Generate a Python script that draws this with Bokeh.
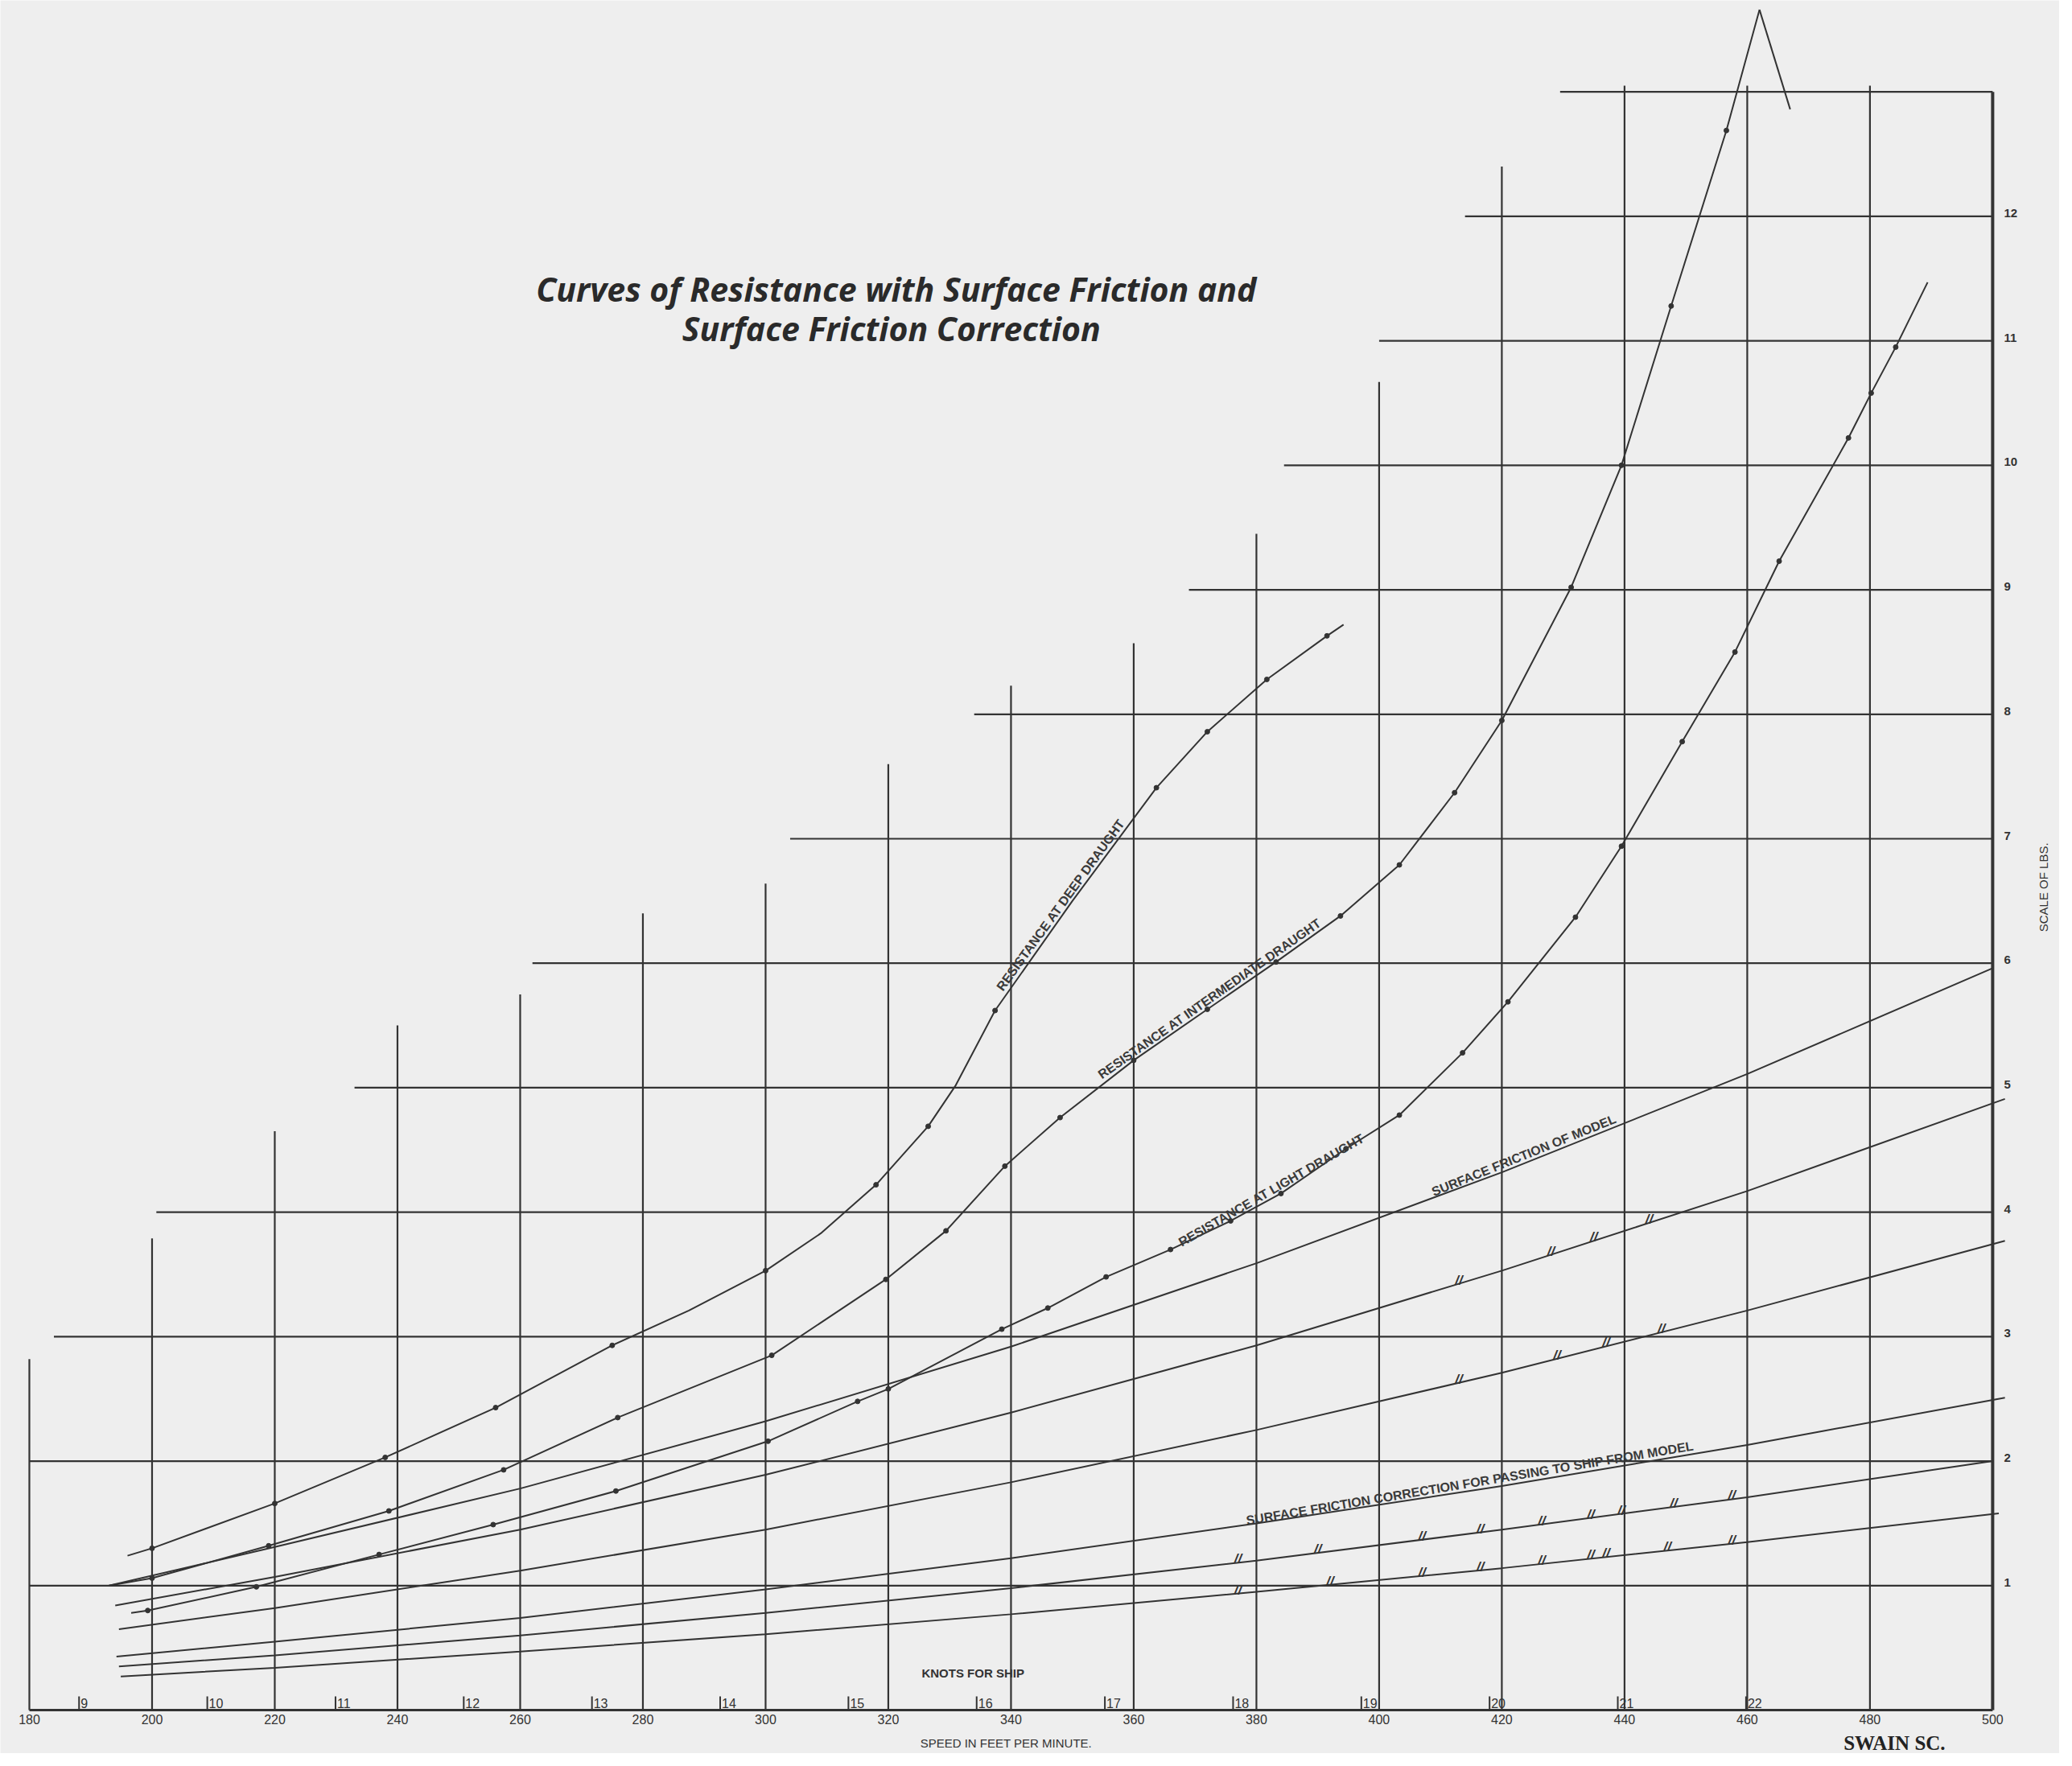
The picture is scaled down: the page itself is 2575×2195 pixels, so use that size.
import numpy as np
from bokeh.plotting import figure
from bokeh.models import Range1d
from bokeh.core.properties import value
from bokeh.embed import file_html
from bokeh.resources import INLINE

# ---------------- data ----------------
speed_ticks = [180, 200, 220, 240, 260, 280, 300, 320, 340, 360, 380, 400, 420, 440, 460, 480, 500]
speed_labels = ["180", "200", "220", "240", "260", "280", "300", "320", "340", "360",
                "380", "400", "420", "440", "460", "480", "500"]
vline_top = [2.82, 3.79, 4.65, 5.5, 5.75, 6.4, 6.64, 7.6, 8.23, 8.57, 9.45, 10.67, 12.4,
             13.05, 13.05, 13.05, 13.0]

lbs_levels = [1, 2, 3, 4, 5, 6, 7, 8, 9, 10, 11, 12, 13]
hline_start = [180, 180, 184, 200.7, 233, 262, 304, 334, 369, 384.5, 400, 414, 429.5]
lbs_labels = ["1", "2", "3", "4", "5", "6", "7", "8", "9", "10", "11", "12", ""]

knots = ["9", "10", "11", "12", "13", "14", "15", "16", "17", "18", "19", "20", "21", "22"]
knots_fpm = [188.1, 209.0, 229.9, 250.8, 271.7, 292.6, 313.5, 334.4, 355.3, 376.2, 397.1,
             418.0, 438.9, 459.8]

deep_fpm = [196, 200, 220, 238, 256, 275, 287.5, 300, 309, 318, 326.5, 331, 337.4, 350,
            363.7, 372, 381.7, 391.5, 394.2]
deep_lbs = [1.24, 1.30, 1.66, 2.03, 2.43, 2.93, 3.21, 3.53, 3.83, 4.22, 4.69, 5.02, 5.62,
            6.50, 7.41, 7.86, 8.28, 8.63, 8.72]
deep_dot = [0, 1, 1, 1, 1, 1, 0, 1, 0, 1, 1, 0, 1, 0, 1, 1, 1, 1, 0]

inter_fpm = [193, 200, 219, 238.6, 257.3, 275.9, 301, 319.6, 329.4, 339, 348, 360, 372,
             383.2, 393.7, 403.3, 412.3, 420, 431.3, 439.5, 447.6, 456.6, 462]
inter_lbs = [1.0, 1.06, 1.32, 1.60, 1.93, 2.35, 2.85, 3.46, 3.85, 4.37, 4.76, 5.22, 5.63,
             6.01, 6.38, 6.79, 7.37, 7.95, 9.02, 10.0, 11.28, 12.69, 13.66]
inter_tail_fpm = [462, 467]
inter_tail_lbs = [13.66, 12.86]

light_fpm = [196.6, 199.3, 217, 237, 255.6, 275.6, 300.4, 315, 320, 338.5, 346, 355.5, 366,
             375.8, 384, 394.6, 403.3, 413.6, 421, 432, 439.5, 449.4, 458, 465.2, 476.5,
             480.2, 484.2, 489.4]
light_lbs = [0.78, 0.80, 0.99, 1.25, 1.49, 1.76, 2.16, 2.48, 2.58, 3.06, 3.23, 3.48, 3.70,
             3.93, 4.15, 4.51, 4.78, 5.28, 5.69, 6.37, 6.94, 7.78, 8.50, 9.23, 10.22, 10.58,
             10.95, 11.47]

sfm_fpm = [193, 220, 260, 300, 340, 380, 420, 460, 500]
sfm_lbs = [1.00, 1.31, 1.78, 2.32, 2.92, 3.59, 4.32, 5.11, 5.96]
fr2_fpm = [194, 220, 260, 300, 340, 380, 420, 460, 502]
fr2_lbs = [0.84, 1.07, 1.45, 1.89, 2.39, 2.93, 3.53, 4.17, 4.91]
fr3_fpm = [194.6, 220, 260, 300, 340, 380, 420, 460, 502]
fr3_lbs = [0.65, 0.82, 1.12, 1.45, 1.83, 2.25, 2.71, 3.21, 3.77]
fr4_fpm = [194.2, 220, 260, 300, 340, 380, 420, 460, 502]
fr4_lbs = [0.43, 0.55, 0.74, 0.97, 1.22, 1.50, 1.80, 2.13, 2.51]
fr5_fpm = [194.6, 220, 260, 300, 340, 380, 420, 460, 500]
fr5_lbs = [0.35, 0.44, 0.60, 0.78, 0.98, 1.20, 1.45, 1.71, 2.00]
fr6_fpm = [194.9, 220, 260, 300, 340, 380, 420, 460, 501]
fr6_lbs = [0.27, 0.34, 0.47, 0.61, 0.77, 0.95, 1.14, 1.35, 1.58]

ditto2_fpm = [413, 428, 435, 444]
ditto3_fpm = [413, 429, 437, 446]
ditto5_fpm = [377, 390, 407, 416.5, 426.5, 434.5, 439.5, 448, 457.5]
ditto6_fpm = [377, 392, 407, 416.5, 426.5, 434.5, 437, 447, 457.5]

# ---------------- figure ----------------
INK = "#333333"
PAPER = "#eeeeee"
W, H = 2559, 2179
p = figure(width=W, height=H, output_backend="svg", toolbar_location=None,
           x_axis_type=None, y_axis_type=None, min_border=0,
           x_range=Range1d(175.28, 510.9), y_range=Range1d(-0.349, 13.735))
p.background_fill_color = PAPER
p.border_fill_color = PAPER
p.outline_line_color = None
p.xgrid.visible = False
p.ygrid.visible = False

SANS = value("Liberation Sans")

# staircase grid
p.segment(x0=speed_ticks[:-1], y0=[0] * 16, x1=speed_ticks[:-1], y1=vline_top[:-1],
          line_color=INK, line_width=2.2)
p.segment(x0=[speed_ticks[-1]], y0=[0], x1=[speed_ticks[-1]], y1=[vline_top[-1]],
          line_color=INK, line_width=4)
p.segment(x0=hline_start, y0=lbs_levels, x1=[500] * len(lbs_levels), y1=lbs_levels,
          line_color=INK, line_width=2.2)
p.segment(x0=[speed_ticks[0]], y0=[0], x1=[speed_ticks[-1]], y1=[0],
          line_color=INK, line_width=3)

# knot ticks
p.segment(x0=knots_fpm, y0=[0] * len(knots), x1=knots_fpm, y1=[0.11] * len(knots),
          line_color=INK, line_width=2)

# curves
p.line(deep_fpm, deep_lbs, line_color=INK, line_width=2)
p.scatter([x for x, d in zip(deep_fpm, deep_dot) if d],
          [y for y, d in zip(deep_lbs, deep_dot) if d], size=6, color=INK)
for xs, ys in [(inter_fpm, inter_lbs), (light_fpm, light_lbs)]:
    p.line(xs, ys, line_color=INK, line_width=2)
    p.scatter(xs[1:-1], ys[1:-1], size=6, color=INK)
p.line(inter_tail_fpm, inter_tail_lbs, line_color=INK, line_width=2)

for xs, ys in [(sfm_fpm, sfm_lbs), (fr2_fpm, fr2_lbs), (fr3_fpm, fr3_lbs),
               (fr4_fpm, fr4_lbs), (fr5_fpm, fr5_lbs), (fr6_fpm, fr6_lbs)]:
    p.line(xs, ys, line_color=INK, line_width=2)

# ditto marks
for dx, (lx, ly) in [(ditto2_fpm, (fr2_fpm, fr2_lbs)), (ditto3_fpm, (fr3_fpm, fr3_lbs)),
                     (ditto5_fpm, (fr5_fpm, fr5_lbs)), (ditto6_fpm, (fr6_fpm, fr6_lbs))]:
    yy = list(np.interp(dx, lx, ly))
    p.text(x=dx, y=yy, text=["//"] * len(dx), text_font=SANS,
           text_font_size="17px", text_font_style="bold italic", text_color=INK,
           text_align="center", text_baseline="bottom", y_offset=5)

# axis tick labels
p.text(x=speed_ticks, y=[0] * len(speed_ticks), text=speed_labels,
       text_font=SANS, text_font_size="16px", text_color=INK,
       text_align="center", text_baseline="top", y_offset=5)
p.text(x=knots_fpm, y=[0] * len(knots), text=knots,
       text_font=SANS, text_font_size="16px", text_color=INK,
       text_align="left", text_baseline="bottom", x_offset=2, y_offset=-3)
p.text(x=[500] * len(lbs_levels), y=lbs_levels, text=lbs_labels,
       text_font=SANS, text_font_size="15px", text_font_style="bold", text_color=INK,
       text_align="left", text_baseline="middle", x_offset=14, y_offset=-4)

def curve_label(txt, xs, ys, xc, ang):
    yc = float(np.interp(xc, xs, ys))
    p.text(x=[xc], y=[yc], text=[txt], angle=[ang], angle_units="deg",
           text_font=SANS, text_font_size="16px", text_font_style="bold",
           text_color="#3a3a3a", text_align="center", text_baseline="bottom", y_offset=-1)

curve_label("RESISTANCE AT DEEP DRAUGHT", deep_fpm, deep_lbs, 349, 54)
curve_label("RESISTANCE AT INTERMEDIATE DRAUGHT", inter_fpm, inter_lbs, 373, 35)
curve_label("RESISTANCE AT LIGHT DRAUGHT", light_fpm, light_lbs, 383, 30)
curve_label("SURFACE FRICTION OF MODEL", sfm_fpm, sfm_lbs, 424, 22)
curve_label("SURFACE FRICTION CORRECTION FOR PASSING TO SHIP FROM MODEL",
            fr4_fpm, fr4_lbs, 415, 9.5)

# titles and captions
p.text(x=[322], y=[11.42], text=["Curves of Resistance with Surface Friction  and"],
       text_font=value("Open Sans"), text_font_size="41px", text_font_style="bold italic",
       text_color="#2a2a2a", text_align="center", text_baseline="middle")
p.text(x=[320.5], y=[11.1], text=["Surface Friction Correction"],
       text_font=value("Open Sans"), text_font_size="41px", text_font_style="bold italic",
       text_color="#2a2a2a", text_align="center", text_baseline="middle")
p.text(x=[333.8], y=[0.30], text=["KNOTS FOR SHIP"],
       text_font=SANS, text_font_size="15px", text_font_style="bold", text_color=INK,
       text_align="center", text_baseline="middle")
p.text(x=[339.2], y=[0], text=["SPEED IN FEET PER MINUTE."],
       text_font=SANS, text_font_size="15px", text_color=INK,
       text_align="center", text_baseline="middle", y_offset=41)
p.text(x=[508.3], y=[6.61], text=["SCALE OF LBS."], angle=[90], angle_units="deg",
       text_font=SANS, text_font_size="15px", text_color=INK,
       text_align="center", text_baseline="middle")
p.text(x=[484], y=[-0.349], text=["SWAIN SC."],
       text_font=value("Liberation Serif"), text_font_size="25px", text_font_style="bold",
       text_color="#222222", text_align="center", text_baseline="bottom")

open("out.html", "w").write(file_html(p, INLINE))
